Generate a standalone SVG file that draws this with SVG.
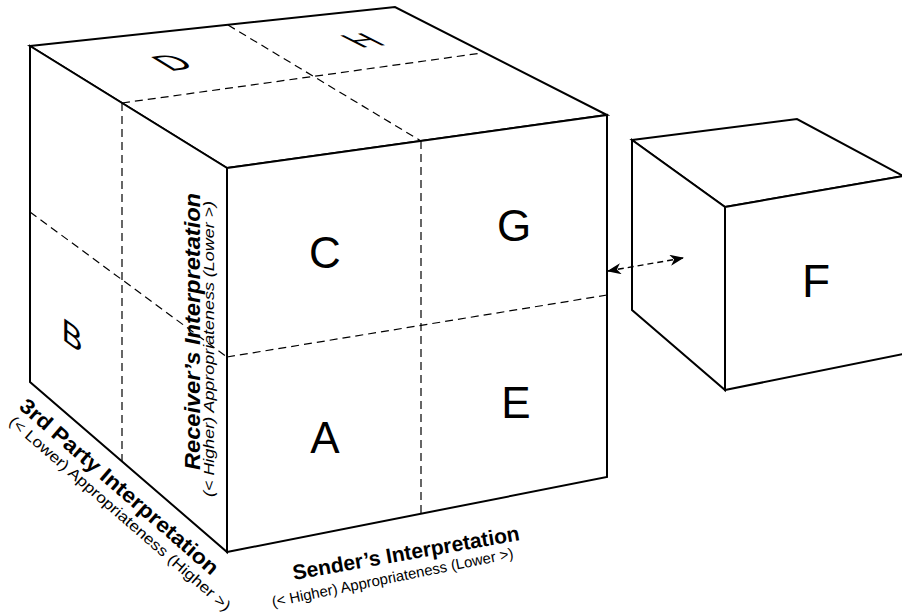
<svg xmlns="http://www.w3.org/2000/svg" width="902" height="614" viewBox="0 0 902 614">
  <style>
    .edge { fill: #fff; stroke: #000; stroke-width: 2; stroke-linejoin: miter; }
    .dash { fill: none; stroke: #000; stroke-width: 1.2; stroke-dasharray: 8 5; }
    .cell { font-family: "Liberation Sans", Arial, sans-serif; font-size: 44px; fill: #000; text-anchor: middle; }
    .flat { font-family: "Liberation Sans", Arial, sans-serif; font-size: 36px; fill: #000; text-anchor: middle; }
    .axis { font-family: "Liberation Sans", Arial, sans-serif; font-weight: bold; fill: #000; }
    .sub { font-family: "Liberation Sans", Arial, sans-serif; fill: #000; }
  </style>
  <defs>
    <marker id="head" viewBox="0 0 14 11" refX="13" refY="5.5" markerWidth="14" markerHeight="11" markerUnits="userSpaceOnUse" orient="auto-start-reverse">
      <path d="M0,0 L14,5.5 L0,11 L4,5.5 z" fill="#000"/>
    </marker>
  </defs>
  <rect width="902" height="614" fill="#fff"/>

  <!-- main cube -->
  <g id="main-cube">
    <polygon class="edge" points="30,46 395,7 607,115 227,168"/>
    <polygon class="edge" points="30,46 227,168 227,552 30,382"/>
    <polygon class="edge" points="227,168 607,115 607,477 227,552"/>
    <!-- cell dividers -->
    <line class="dash" x1="228" y1="25" x2="421" y2="141"/>
    <line class="dash" x1="421" y1="141" x2="421" y2="513"/>
    <line class="dash" x1="122" y1="103" x2="482" y2="53"/>
    <line class="dash" x1="122" y1="103" x2="122" y2="461"/>
    <line class="dash" x1="30" y1="212" x2="227" y2="357"/>
    <line class="dash" x1="227" y1="357" x2="607" y2="295"/>
  </g>

  <!-- cells on the front face -->
  <g id="cell-C"><text class="cell" x="325" y="268">C</text></g>
  <g id="cell-A"><text class="cell" x="325" y="453">A</text></g>
  <g id="cell-G"><text class="cell" x="514" y="241">G</text></g>
  <g id="cell-E"><text class="cell" x="516" y="418">E</text></g>

  <!-- cells on the top face, laid flat -->
  <g id="cell-D" transform="translate(172,62) matrix(1.02,-0.142,0.9,0.56,0,0)">
    <text class="flat" x="0" y="13">D</text>
  </g>
  <g id="cell-H" transform="translate(362,40) matrix(1.05,-0.11,0.95,0.48,0,0)">
    <text class="flat" x="0" y="13">H</text>
  </g>

  <!-- cell on the left face -->
  <g id="cell-B" transform="translate(72,335) matrix(1.0,0.73,0,1.05,0,0)">
    <text class="flat" style="font-size:31px" x="0" y="11">B</text>
  </g>

  <!-- separate cube F -->
  <g id="cube-F">
    <polygon class="edge" points="632,140 797,119 903,176 725,207"/>
    <polygon class="edge" points="632,140 725,207 725,390 632,310"/>
    <polygon class="edge" points="725,207 903,176 903,354 725,390"/>
    <text class="cell" style="font-size:46px" x="816" y="297">F</text>
  </g>

  <!-- connector between the cubes -->
  <g id="connectors">
    <line x1="608" y1="271" x2="683" y2="258" stroke="#000" stroke-width="1.4" stroke-dasharray="6 4" marker-start="url(#head)" marker-end="url(#head)"/>
  </g>

  <!-- axis labels -->
  <g id="axis-sender">
    <text class="axis" font-size="21" transform="translate(294,580) rotate(-10)" textLength="230" lengthAdjust="spacingAndGlyphs">Sender’s Interpretation</text>
    <text class="sub" font-size="15" transform="translate(273,607) rotate(-11.5)" textLength="246" lengthAdjust="spacingAndGlyphs">(&lt; Higher) Appropriateness (Lower &gt;)</text>
  </g>
  <g id="axis-receiver">
    <text class="axis" font-size="22" font-style="italic" transform="translate(200,470) rotate(-90)" textLength="277" lengthAdjust="spacingAndGlyphs">Receiver’s Interpretation</text>
    <text class="sub" font-size="15" font-style="italic" transform="translate(214,497) rotate(-90)" textLength="296" lengthAdjust="spacingAndGlyphs">(&lt; Higher) Appropriateness (Lower &gt;)</text>
  </g>
  <g id="axis-third-party">
    <text class="axis" font-size="21" transform="translate(18,408) rotate(41)" textLength="256" lengthAdjust="spacingAndGlyphs">3rd Party Interpretation</text>
    <text class="sub" font-size="15" transform="translate(8,423) rotate(41)" textLength="288" lengthAdjust="spacingAndGlyphs">(&lt; Lower) Appropriateness (Higher &gt;)</text>
  </g>
</svg>
